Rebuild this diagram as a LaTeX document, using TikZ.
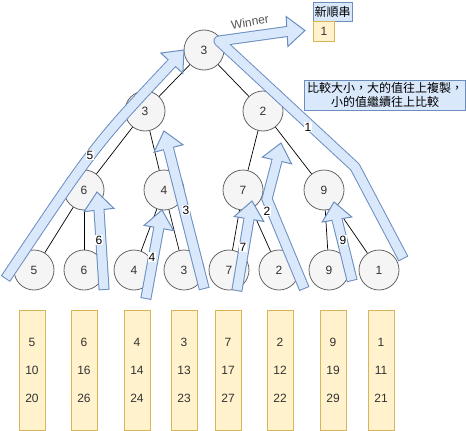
\documentclass[tikz,border=0pt]{standalone}
\usepackage{fontspec}
\setmainfont{Liberation Sans}
\newfontfamily\cjk{Noto Sans CJK TC}
\usetikzlibrary{calc}
\definecolor{nfill}{HTML}{F5F5F5}
\definecolor{nstroke}{HTML}{666666}
\definecolor{ntext}{HTML}{333333}
\definecolor{bfill}{HTML}{DAE8FC}
\definecolor{bstroke}{HTML}{6C8EBF}
\definecolor{yfill}{HTML}{FFF2CC}
\definecolor{ystroke}{HTML}{D6B656}
\definecolor{wtext}{HTML}{555555}
\newcommand\fshaft[2][]{%
  \draw[bstroke, line width=11pt, shorten <=-1pt, #1] #2;
  \draw[bfill, line width=9pt, #1] #2;
}
\newcommand\fhead[2]{%
  \filldraw[fill=bfill, draw=bstroke, line width=1pt, line join=miter]
    ($(#1)!15pt!90:(#2)$) -- (#2) -- ($(#1)!15pt!-90:(#2)$) -- cycle;
  \draw[bfill, line width=9pt] ($(#1)!-1.5pt!(#2)$) -- ($(#1)!1.5pt!(#2)$);
}
\begin{document}
\begin{tikzpicture}[x=1pt,y=-1pt,
  font=\fontsize{12}{14}\selectfont,
  circ/.style={circle, draw=nstroke, fill=nfill, text=ntext, minimum size=40pt, inner sep=0pt, line width=0.8pt},
  edge/.style={draw=black, line width=0.7pt},
  ybox/.style={rectangle, draw=ystroke, fill=yfill, line width=0.8pt, minimum width=26pt, minimum height=120pt, inner sep=0pt, align=center, text=ntext, font=\fontsize{12}{28}\selectfont},
  bbox/.style={rectangle, draw=bstroke, fill=bfill, line width=0.8pt, inner sep=0pt},
  alabel/.style={fill=white, inner sep=0.8pt, text=black},
]
\useasboundingbox (0,0) rectangle (466,431);

% tree nodes
\node[circ] (r)  at (204,50) {3};
\node[circ] (a)  at (145,111) {3};
\node[circ] (b)  at (263,111) {2};
\node[circ] (c)  at (84,190) {6};
\node[circ] (d)  at (164,190) {4};
\node[circ] (e)  at (243,190) {7};
\node[circ] (f)  at (324,190) {9};
\node[circ] (l1) at (34,270) {5};
\node[circ] (l2) at (84,270) {6};
\node[circ] (l3) at (134,270) {4};
\node[circ] (l4) at (184,270) {3};
\node[circ] (l5) at (229,270) {7};
\node[circ] (l6) at (279,270) {2};
\node[circ] (l7) at (329,270) {9};
\node[circ] (l8) at (379,270) {1};

\draw[edge] (r) -- (a);
\draw[edge] (r) -- (b);
\draw[edge] (a) -- (c);
\draw[edge] (a) -- (d);
\draw[edge] (b) -- (e);
\draw[edge] (b) -- (f);
\draw[edge] (c) -- (l1);
\draw[edge] (c) -- (l2);
\draw[edge] (d) -- (l3);
\draw[edge] (d) -- (l4);
\draw[edge] (e) -- (l5);
\draw[edge] (e) -- (l6);
\draw[edge] (f) -- (l7);
\draw[edge] (f) -- (l8);

% bottom runs
\node[ybox] (s1) at (32,370)  {5\\10\\20};
\node[ybox] (s2) at (84,370)  {6\\16\\26};
\node[ybox] (s3) at (137,370) {4\\14\\24};
\node[ybox] (s4) at (184,370) {3\\13\\23};
\node[ybox] (s5) at (228,370) {7\\17\\27};
\node[ybox] (s6) at (280,370) {2\\12\\22};
\node[ybox] (s7) at (333,370) {9\\19\\29};
\node[ybox] (s8) at (381,370) {1\\11\\21};

% new run
\node[bbox, minimum width=39pt, minimum height=19pt, font=\cjk\fontsize{12}{14}\selectfont] (nr) at (332.5,11.5) {新順串};
\node[rectangle, draw=ystroke, fill=yfill, line width=0.8pt, minimum width=21pt, minimum height=20pt, inner sep=0pt, text=ntext, anchor=north west] (n1) at (313,21) {1};

% explanation
\node[bbox, minimum width=161pt, minimum height=30pt, align=center, font=\cjk\fontsize{12}{14}\selectfont] (txt) at (385,95) {比較大小，大的值往上複製，\\小的值繼續往上比較};

% arrow coordinates
\coordinate (p5t) at (6,278);
\coordinate (p5c) at (95,145);
\coordinate (p5b) at (171.8,63.2);
\coordinate (p5h) at (184,50);

\coordinate (p6t) at (104,289);
\coordinate (p6b) at (99,210);
\coordinate (p6h) at (97,192);

\coordinate (p4t) at (146,298);
\coordinate (p4b) at (158.8,228);
\coordinate (p4h) at (162,210);

\coordinate (p3t) at (204,288);
\coordinate (p3b) at (168.5,148.5);
\coordinate (p3h) at (164,131);

\coordinate (p7t) at (237,290);
\coordinate (p7b) at (249,219);
\coordinate (p7h) at (252,201);

\coordinate (p2t) at (304,288);
\coordinate (p2m) at (267,199);
\coordinate (p2b) at (277,160.5);
\coordinate (p2h) at (281,143);

\coordinate (p9t) at (352,280);
\coordinate (p9b) at (337,219.5);
\coordinate (p9h) at (334,202);

\coordinate (p1t) at (403,258);
\coordinate (p1m) at (355,167);
\coordinate (p1c) at (219,41);
\coordinate (p1b) at (287,31.5);
\coordinate (p1h) at (305,30.5);

% flex arrows
\fshaft{(p5t) .. controls (p5c) .. (p5b)}
\fhead{p5b}{p5h}
\fshaft{(p6t) -- (p6b)}
\fhead{p6b}{p6h}
\fshaft{(p3t) -- (p3b)}
\fhead{p3b}{p3h}
\fshaft{(p4t) -- (p4b)}
\fhead{p4b}{p4h}
\fshaft{(p2t) -- (p2m) -- (p2b)}
\fhead{p2b}{p2h}
\fshaft{(p7t) -- (p7b)}
\fhead{p7b}{p7h}
\fshaft{(p9t) -- (p9b)}
\fhead{p9b}{p9h}
\fshaft[line join=round]{(p1t) -- (p1m) -- (p1c) -- (p1b)}
\fhead{p1b}{p1h}

% arrow labels
\node[alabel] (t5) at (90,155) {5};
\node[alabel] (t6) at (99,240) {6};
\node[alabel] (t4) at (152,257) {4};
\node[alabel] (t3) at (186,210) {3};
\node[alabel] (t7) at (243,247) {7};
\node[alabel] (t2) at (267,211) {2};
\node[alabel] (t9) at (343,240) {9};
\node[alabel] (t1) at (308,127) {1};
\node[text=wtext, rotate=9] (win) at (250,22) {Winner};
\end{tikzpicture}
\end{document}
